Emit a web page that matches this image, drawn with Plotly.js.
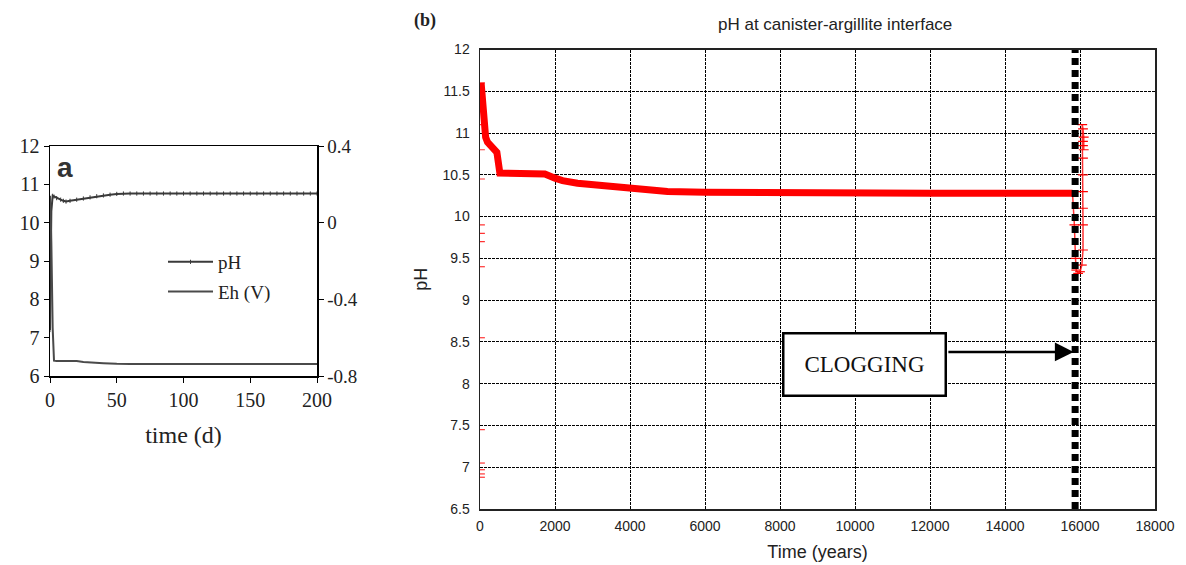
<!DOCTYPE html>
<html><head><meta charset="utf-8">
<script src="https://cdn.plot.ly/plotly-3.0.1.min.js"></script>
<style>html,body{margin:0;padding:0;background:#fff}</style>
</head><body><div id="chart" style="width:1186px;height:565px"></div>
<script>
// ---- Panel (a): short-term pH and Eh ----
const aTime = [0, 1, 2, 3, 5, 8, 10, 12, 15, 20, 25, 30, 35, 40, 45, 50, 55, 60, 65, 70, 75, 80, 85, 90, 95, 100, 105, 110, 115, 120, 125, 130, 135, 140, 145, 150, 155, 160, 165, 170, 175, 180, 185, 190, 195, 200];
const aPH   = [7.2, 10.3, 10.7, 10.68, 10.64, 10.6, 10.57, 10.55, 10.57, 10.6, 10.63, 10.66, 10.69, 10.71, 10.73, 10.75, 10.76, 10.76, 10.76, 10.76, 10.76, 10.76, 10.76, 10.76, 10.76, 10.76, 10.76, 10.76, 10.76, 10.76, 10.76, 10.76, 10.76, 10.76, 10.76, 10.76, 10.76, 10.76, 10.76, 10.76, 10.76, 10.76, 10.76, 10.76, 10.76, 10.76];
const aEhTime = [0, 1, 2, 3, 5, 10, 20, 25, 30, 40, 50, 60, 100, 150, 200];
const aEh     = [0.14, -0.1, -0.55, -0.72, -0.722, -0.722, -0.722, -0.727, -0.73, -0.733, -0.736, -0.737, -0.737, -0.737, -0.737];

// ---- Panel (b): long-term pH at canister-argillite interface ----
const bInitTime = [0, 0, 0, 0, 0, 0, 0, 0, 0, 0, 0, 0, 0, 0, 0, 0];
const bInitPH   = [11.6, 11.5, 11.3, 11.1, 10.8, 10.45, 9.9, 9.8, 9.7, 9.4, 8.55, 7.45, 7.05, 6.97, 6.92, 6.88];
const bTime = [30, 60, 100, 150, 200, 300, 450, 530, 1000, 1500, 1730, 2000, 2200, 2600, 3200, 4000, 5000, 6000, 8000, 10000, 12000, 14000, 15800];
const bPH   = [11.6, 11.45, 11.1, 10.95, 10.89, 10.84, 10.77, 10.52, 10.52, 10.52, 10.51, 10.46, 10.43, 10.4, 10.37, 10.33, 10.3, 10.29, 10.28, 10.28, 10.28, 10.28, 10.28];
const cTime = [15800, 15850, 15880, 15900, 15950, 16000, 16050, 16080, 16080, 16080, 16080, 16080, 16080, 16080, 16060, 16080, 16100, 16100, 16080];
const cPH   = [10.28, 9.9, 9.5, 9.36, 9.32, 9.34, 9.42, 9.6, 9.9, 10.1, 10.3, 10.5, 10.7, 10.9, 11.1, 11.05, 10.95, 10.8, 10.85];
const clogTime = [15870, 15870];
const clogRange = [6.5, 12];
const clogLabel = "CLOGGING";
const clogArrowY = 8.38;
const clogBox = {x: 10250, y: 8.23, tail: 12450};

const serif = "Liberation Serif, Times New Roman, serif";
const sans = "Liberation Sans, Arial, sans-serif";

const traces = [
  {x: aTime, y: aPH, name: "pH", legendgroup: "g1", xaxis: "x", yaxis: "y", mode: "lines+markers",
   line: {color: "#3a3a3a", width: 2}, marker: {symbol: "line-ns", size: 3, line: {color: "#3a3a3a", width: 1}}},
  {x: aEhTime, y: aEh, name: "Eh (V)", legendgroup: "g2", xaxis: "x", yaxis: "y2", mode: "lines",
   line: {color: "#4a4a4a", width: 2}},
  {x: bInitTime, y: bInitPH, xaxis: "x2", yaxis: "y3", mode: "markers", showlegend: false,
   marker: {symbol: "line-ew", size: 7, line: {color: "rgba(255,0,0,0.8)", width: 1.2}}},
  {x: bTime, y: bPH, xaxis: "x2", yaxis: "y3", mode: "lines", showlegend: false,
   line: {color: "#ff0000", width: 7}},
  {x: cTime, y: cPH, xaxis: "x2", yaxis: "y3", mode: "lines+markers", showlegend: false,
   line: {color: "rgba(255,0,0,0.8)", width: 1.5}, marker: {symbol: "line-ew", size: 7, line: {color: "#ff0000", width: 1.2}}},
  {x: clogTime, y: clogRange, xaxis: "x2", yaxis: "y3", mode: "lines", showlegend: false,
   line: {color: "#000", width: 7, dash: "7px,5px"}}
];

const layout = {
  width: 1186, height: 565,
  margin: {l: 0, r: 0, t: 0, b: 0},
  paper_bgcolor: "#fff", plot_bgcolor: "#fff",
  showlegend: true,
  legend: {x: 163/1186, y: 1 - 243/565, xanchor: "left", yanchor: "top", bgcolor: "rgba(0,0,0,0)",
           itemwidth: 45, tracegroupgap: 2,
           font: {family: serif, size: 19, color: "#222"}},
  xaxis: {domain: [50/1186, 317/1186], range: [0, 200], tickvals: [0, 50, 100, 150, 200],
          showgrid: false, zeroline: false, showline: true, linecolor: "#000", linewidth: 1.5, mirror: true,
          ticks: "outside", ticklen: 5, tickcolor: "#000",
          tickfont: {family: serif, size: 20, color: "#222"},
          title: {text: "time (d)", font: {family: serif, size: 24, color: "#222"}, standoff: 16}, anchor: "y"},
  yaxis: {domain: [1 - 376/565, 1 - 146/565], range: [6, 12], dtick: 1,
          showgrid: false, zeroline: false, showline: true, linecolor: "#000", linewidth: 1.5,
          ticks: "outside", ticklen: 5, tickcolor: "#000",
          tickfont: {family: serif, size: 20, color: "#222"}, anchor: "x"},
  yaxis2: {overlaying: "y", side: "right", anchor: "x", range: [-0.8, 0.4], tickvals: [0.4, 0, -0.4, -0.8],
           ticktext: ["0.4", "0", "-0.4", "-0.8"],
           showgrid: false, zeroline: false, showline: true, linecolor: "#000", linewidth: 1.5,
           ticks: "outside", ticklen: 5, tickcolor: "#000",
           tickfont: {family: serif, size: 19, color: "#222"}},
  xaxis2: {domain: [480/1186, 1155/1186], range: [0, 18000], dtick: 2000, tickformat: "d", anchor: "y3",
           showgrid: true, gridcolor: "#000", gridwidth: 1, griddash: "3px,1px",
           zeroline: false, showline: true, linecolor: "#222", linewidth: 1.5, mirror: true,
           ticks: "", ticklabelstandoff: 4,
           tickfont: {family: sans, size: 14, color: "#222"},
           title: {text: "Time (years)", font: {family: sans, size: 18, color: "#222"}, standoff: 12}},
  yaxis3: {domain: [1 - 509/565, 1 - 49.5/565], range: [6.5, 12], dtick: 0.5, anchor: "x2",
           showgrid: true, gridcolor: "#000", gridwidth: 1, griddash: "3px,1px",
           zeroline: false, showline: true, linecolor: "#222", linewidth: 1.5, mirror: true,
           ticks: "", ticklabelstandoff: 6,
           tickfont: {family: sans, size: 14, color: "#222"},
           title: {text: "pH", font: {family: sans, size: 18, color: "#222"}, standoff: 10}},
  annotations: [
    {xref: "paper", yref: "paper", x: 55/1186, y: 1 - 150/565, xanchor: "left", yanchor: "top",
     text: "<b>a</b>", showarrow: false, font: {family: sans, size: 28, color: "#333"}},
    {xref: "paper", yref: "paper", x: 425/1186, y: 1 - 20/565, xanchor: "center", yanchor: "middle",
     text: "<b>(b)</b>", showarrow: false, font: {family: serif, size: 18, color: "#222"}},
    {xref: "paper", yref: "paper", x: 835/1186, y: 1 - 25/565, xanchor: "center", yanchor: "middle",
     text: "pH at canister-argillite interface", showarrow: false, font: {family: sans, size: 17, color: "#222"}},
    {xref: "x2", yref: "y3", x: clogBox.x, y: clogBox.y, text: clogLabel, showarrow: false,
     width: 160, height: 60, bordercolor: "#000", borderwidth: 2.5, borderpad: 0, bgcolor: "#fff",
     font: {family: serif, size: 23, color: "#111"}, valign: "middle"},
    {xref: "x2", yref: "y3", axref: "x2", ayref: "y3", x: clogTime[0] - 40, y: clogArrowY,
     ax: clogBox.tail, ay: clogArrowY, text: "", showarrow: true,
     arrowhead: 2, arrowsize: 1.5, arrowwidth: 2.5, arrowcolor: "#000"}
  ]
};

Plotly.newPlot("chart", traces, layout, {displayModeBar: false, staticPlot: true});
</script></body></html>
